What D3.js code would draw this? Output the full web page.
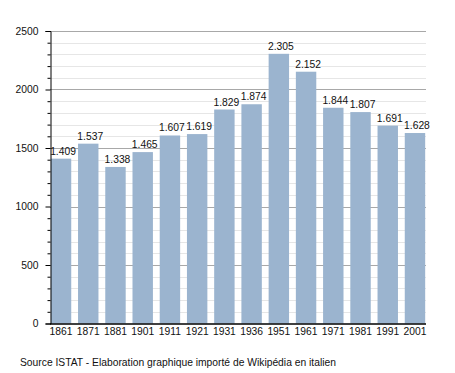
<!DOCTYPE html>
<html>
<head>
<meta charset="utf-8">
<script src="https://cdn.jsdelivr.net/npm/d3@7"></script>
<style>
  body { margin: 0; background: white; }
  svg text { font-family: "Liberation Sans", Arial, sans-serif; }
</style>
</head>
<body>
<div id="chart"></div>
<script>

let w = 455;
let h = 373;

let years = ["1861", "1871", "1881", "1901", "1911", "1921", "1931", "1936", "1951", "1961", "1971", "1981", "1991", "2001"];
let population = [1409, 1537, 1338, 1465, 1607, 1619, 1829, 1874, 2305, 2152, 1844, 1807, 1691, 1628];
let yTicks = [0, 500, 1000, 1500, 2000, 2500];
let sourceText = "Source ISTAT - Elaboration graphique importé de Wikipédia en italien";

let barColor = "#9bb4cf";
let fontSize = 10.3;

let viz = d3.select("#chart").append("svg")
	.attr("width", w)
	.attr("height", h)
;

let xScale = d3.scaleBand().domain(years).range([50, 426]).paddingInner(0.25).paddingOuter(0.03);
let yScale = d3.scaleLinear().domain([0, 2500]).range([323.5, 31]);

// minor grid every 100
let minor = d3.range(0, 2501, 100).filter(d => d % 500 != 0);
viz.append("g").selectAll("line").data(minor).enter().append("line")
	.attr("x1", 50).attr("x2", 426)
	.attr("y1", d => Math.round(yScale(d)) + 0.5)
	.attr("y2", d => Math.round(yScale(d)) + 0.5)
	.attr("stroke", "#e6e6e6")
;
viz.append("g").selectAll("line").data(yTicks.filter(d => d > 0)).enter().append("line")
	.attr("x1", 50).attr("x2", 426)
	.attr("y1", d => Math.round(yScale(d)) + 0.5)
	.attr("y2", d => Math.round(yScale(d)) + 0.5)
	.attr("stroke", "#a8a8a8")
;

// bars
viz.append("g").selectAll("rect").data(population).enter().append("rect")
	.attr("x", (d, i) => xScale(years[i]))
	.attr("y", d => yScale(d))
	.attr("width", xScale.bandwidth())
	.attr("height", d => yScale(0) - yScale(d))
	.attr("fill", barColor)
;

// value labels, italian thousands separator
let fmt = d3.formatLocale({decimal: ",", thousands: ".", grouping: [3], currency: ["", "€"]}).format(",");
viz.append("g").selectAll("text").data(population).enter().append("text")
	.attr("x", (d, i) => xScale(years[i]) + xScale.bandwidth() / 2 + 2)
	.attr("y", d => yScale(d) - 4)
	.attr("text-anchor", "middle")
	.attr("font-size", fontSize)
	.attr("fill", "#111")
	.text(d => fmt(d))
;

// y axis
let yAxis = d3.axisLeft(yScale).tickValues(yTicks).tickSize(5).tickPadding(7).tickFormat(d3.format("d"));
let yG = viz.append("g").attr("transform", "translate(50.5,0)").call(yAxis);
yG.select(".domain").attr("stroke", "#000");
yG.selectAll("text").attr("font-size", fontSize).attr("fill", "#111");
let yMinor = d3.axisLeft(yScale).tickValues(minor).tickSize(3).tickFormat("");
viz.append("g").attr("transform", "translate(50.5,0)").call(yMinor).select(".domain").remove();

// x axis
let xAxis = d3.axisBottom(xScale).tickSize(0).tickPadding(3.5);
let xG = viz.append("g").attr("transform", "translate(0," + (yScale(0) + 0.5) + ")").call(xAxis);
xG.select(".domain").attr("d", "M50,0H426").attr("stroke", "#000").attr("stroke-width", 1.3);
xG.selectAll("text").attr("font-size", fontSize).attr("fill", "#111");

viz.append("text")
	.attr("x", 20)
	.attr("y", 366)
	.attr("font-size", fontSize)
	.attr("fill", "#111")
	.text(sourceText)
;

</script>
</body>
</html>
